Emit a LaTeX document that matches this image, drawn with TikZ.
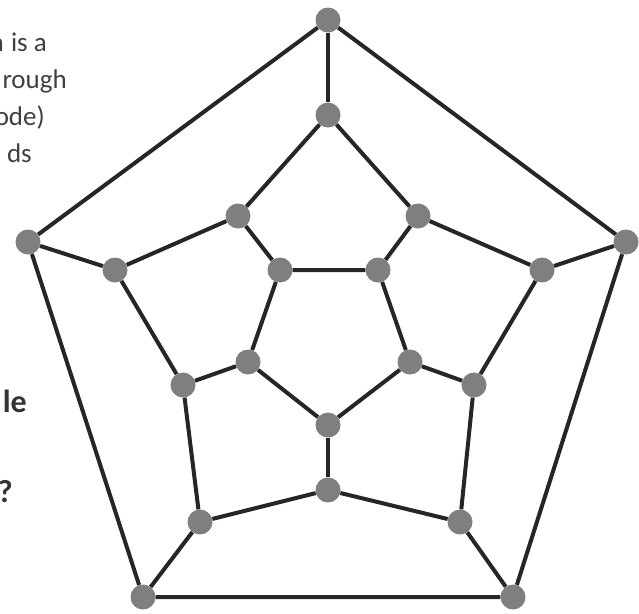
\documentclass[tikz,border=0pt]{standalone}
\usepackage{fontspec}
\setmainfont{Carlito}
\definecolor{edgecol}{HTML}{262626}
\definecolor{nodecol}{HTML}{7F7F7F}
\definecolor{txtcol}{HTML}{404040}
\definecolor{btxtcol}{HTML}{333333}
\begin{document}
\begin{tikzpicture}[x=1pt,y=-1pt,
  vtx/.style={circle,fill=nodecol,draw=none,minimum size=25pt,inner sep=0pt},
  edg/.style={line width=4pt,draw=edgecol},
  txt/.style={text=txtcol,font=\fontsize{27}{32}\selectfont,inner sep=0pt,anchor=base east},
  btxt/.style={text=btxtcol,font=\fontsize{32}{38}\selectfont\bfseries,inner sep=0pt,anchor=base east}]
\useasboundingbox (0,0) rectangle (639,613);
\clip (0,0) rectangle (639,613);
% text fragments (cut off at the left edge, as in the reference)
\node[txt] (t0) at (4,51) {n};
\node[txt] (t1) at (47,51) {is a};
\node[txt] (t2) at (67,88) {rough};
\node[txt] (t3) at (45,125) {ode)};
\node[txt] (t4) at (32,162) {ds};
\node[btxt] (t5) at (2,370) {n};
\node[btxt] (t6) at (27,412) {le};
\node[btxt] (t7) at (13,502) {?};
% outer
\node[vtx] (o1) at (328,20) {};
\node[vtx] (o2) at (28,242) {};
\node[vtx] (o3) at (626,242) {};
\node[vtx] (o4) at (143,597) {};
\node[vtx] (o5) at (513,597) {};
% middle
\node[vtx] (m1) at (328,115) {};
\node[vtx] (m2) at (238,216) {};
\node[vtx] (m3) at (115,270) {};
\node[vtx] (m4) at (183,385) {};
\node[vtx] (m5) at (200,522) {};
\node[vtx] (m6) at (328,490) {};
\node[vtx] (m7) at (460,522) {};
\node[vtx] (m8) at (474,385) {};
\node[vtx] (m9) at (542,270) {};
\node[vtx] (m10) at (418,216) {};
% inner
\node[vtx] (i1) at (280,270) {};
\node[vtx] (i2) at (378,270) {};
\node[vtx] (i3) at (410,362) {};
\node[vtx] (i4) at (328,425) {};
\node[vtx] (i5) at (248,362) {};
% edges
\draw[edg] (o1) -- (o2) -- (o4) -- (o5) -- (o3) -- (o1);
\draw[edg] (o1) -- (m1);
\draw[edg] (o2) -- (m3);
\draw[edg] (o3) -- (m9);
\draw[edg] (o4) -- (m5);
\draw[edg] (o5) -- (m7);
\draw[edg] (m1) -- (m2) -- (m3) -- (m4) -- (m5) -- (m6) -- (m7) -- (m8) -- (m9) -- (m10) -- (m1);
\draw[edg] (m2) -- (i1);
\draw[edg] (m10) -- (i2);
\draw[edg] (m8) -- (i3);
\draw[edg] (m6) -- (i4);
\draw[edg] (m4) -- (i5);
\draw[edg] (i1) -- (i2) -- (i3) -- (i4) -- (i5) -- (i1);
\end{tikzpicture}
\end{document}
